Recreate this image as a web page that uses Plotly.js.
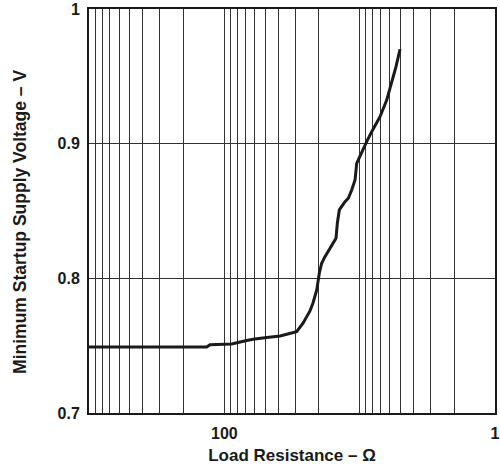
<!DOCTYPE html>
<html>
<head>
<meta charset="utf-8">
<script src="https://cdn.plot.ly/plotly-3.0.1.min.js"></script>
<style>html,body{margin:0;padding:0;background:#fff;}#chart{width:500px;height:469px;}</style>
</head>
<body>
<div id="chart"></div>
<script>
// Load resistance (Ohm) and minimum startup supply voltage (V)
const loadResistance = [31.6, 60.0, 86.1, 88.5, 106.4, 121.0, 127.7, 143.5, 160.7, 170.0, 185.0, 195.3, 207.2, 212.6, 219.5, 224.3, 228.9, 235.4, 252.7, 258.6, 261.5, 266.0, 279.2, 287.1, 295.5, 304.0, 308.3, 321.8, 335.7, 350.4, 376.0, 398.0, 415.4, 430.8, 445.7];
const startupVoltage = [0.749, 0.749, 0.749, 0.7507, 0.7512, 0.7538, 0.7548, 0.756, 0.7572, 0.7585, 0.7604, 0.7667, 0.7758, 0.7817, 0.7914, 0.8038, 0.8112, 0.8161, 0.8261, 0.8298, 0.8409, 0.8508, 0.8569, 0.8595, 0.8656, 0.8730, 0.8854, 0.8941, 0.9015, 0.9089, 0.9200, 0.9324, 0.9448, 0.9572, 0.9701];

// X grid lines (as printed on the chart)
const xGridValues = [33.33, 35.36, 37.80, 40.82, 44.72, 50.0, 57.74, 70.71,
  100, 105.41, 111.80, 119.52, 129.10, 141.42, 158.11, 182.57, 223.61,
  316.23, 333.33, 353.55, 377.96, 408.25, 447.21, 500, 577.35, 707.11, 1000];
const xLabelValues = [100, 1000];
const xLabelText = ['100', '1'];

const yTickValues = [0.7, 0.8, 0.9, 1.0];
const yTickText = ['0.7', '0.8', '0.9', '1'];

const xTitle = 'Load Resistance – Ω';
const yTitle = 'Minimum Startup Supply Voltage – V';

const xTickText = xGridValues.map(v => {
  const i = xLabelValues.indexOf(v);
  return i >= 0 ? xLabelText[i] : '';
});

const fontFam = 'Liberation Sans, Arial, Helvetica, sans-serif';

const trace = {
  x: loadResistance,
  y: startupVoltage,
  type: 'scatter',
  mode: 'lines',
  line: {color: '#1a1a1a', width: 3, shape: 'linear'},
  hoverinfo: 'skip'
};

const layout = {
  width: 500,
  height: 469,
  margin: {l: 89, r: 5, t: 9, b: 56},
  paper_bgcolor: '#ffffff',
  plot_bgcolor: '#ffffff',
  showlegend: false,
  font: {family: fontFam, color: '#1a1a1a', size: 16},
  xaxis: {
    type: 'log',
    range: [1.5, 3],
    tickmode: 'array',
    tickvals: xGridValues,
    ticktext: xTickText,
    ticks: '',
    showgrid: true,
    gridcolor: '#333333',
    gridwidth: 1,
    showline: true,
    linecolor: '#1a1a1a',
    linewidth: 2,
    mirror: true,
    zeroline: false,
    tickfont: {family: fontFam, size: 16, weight: 700, color: '#1a1a1a'},
    ticklabelstandoff: 5,
    title: {text: xTitle, font: {family: fontFam, size: 17, weight: 700, color: '#1a1a1a'}, standoff: 8}
  },
  yaxis: {
    range: [0.7, 1.0],
    tickmode: 'array',
    tickvals: yTickValues,
    ticktext: yTickText,
    ticks: '',
    showgrid: true,
    gridcolor: '#333333',
    gridwidth: 1,
    showline: true,
    linecolor: '#1a1a1a',
    linewidth: 2,
    mirror: true,
    zeroline: false,
    tickfont: {family: fontFam, size: 16, weight: 700, color: '#1a1a1a'},
    ticklabelstandoff: 4
  },
  annotations: [{
    text: yTitle,
    xref: 'paper', yref: 'paper',
    x: -0.17, y: 0.473,
    xanchor: 'center', yanchor: 'middle',
    textangle: -90,
    showarrow: false,
    font: {family: fontFam, size: 17.5, weight: 700, color: '#1a1a1a'}
  }]
};

Plotly.newPlot('chart', [trace], layout, {staticPlot: true, displayModeBar: false});
</script>
</body>
</html>
